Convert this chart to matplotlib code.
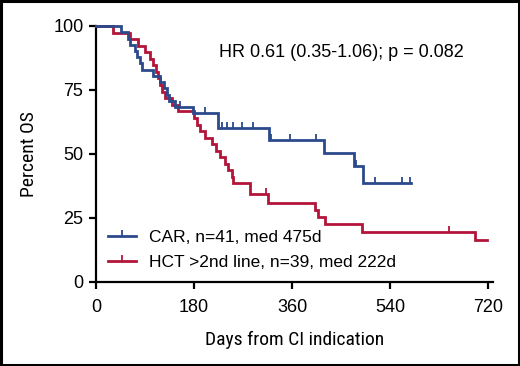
import matplotlib
matplotlib.use("Agg")
import matplotlib.pyplot as plt
from matplotlib import font_manager
from matplotlib.path import Path
from matplotlib.lines import Line2D
from matplotlib.patches import Rectangle

# ---- data ----
car_times = [0, 46, 59, 62, 72, 76, 80, 85, 105, 118, 125, 130, 134, 145, 178, 224, 317, 418, 474, 490]
car_surv = [100, 97.6, 95.1, 92.7, 90.2, 87.8, 85.4, 82.9, 80.5, 78.0, 75.6, 73.2, 70.7, 68.3, 65.9, 60.0, 55.4, 50.3, 45.3, 38.5]
car_end = 578
car_cens_t = [155, 200, 231, 240, 252, 268, 289, 322, 356, 404, 478, 512, 561, 577]
car_cens_s = [68.3, 65.9, 60.0, 60.0, 60.0, 60.0, 60.0, 55.4, 55.4, 55.4, 45.3, 38.5, 38.5, 38.5]

hct_times = [0, 31, 62, 77, 90, 99, 104, 110, 114, 118, 122, 127, 140, 150, 180, 186, 191, 200, 213, 220, 228, 236, 242, 250, 252, 283, 315, 402, 407, 421, 488, 696]
hct_surv = [100, 97.4, 94.9, 92.3, 89.7, 87.2, 84.6, 82.1, 79.5, 76.9, 74.4, 71.8, 69.2, 66.7, 64.1, 61.5, 59.0, 56.4, 53.8, 51.3, 48.7, 46.2, 43.6, 41.0, 38.5, 34.2, 30.8, 28.0, 25.3, 22.5, 19.7, 16.4]
hct_end = 718
hct_cens_t = [312, 649]
hct_cens_s = [34.2, 19.7]

x_ticks = [0, 180, 360, 540, 720]
y_ticks = [0, 25, 50, 75, 100]

car_label = "CAR, n=41, med 475d"
hct_label = "HCT >2nd line, n=39, med 222d"
stat_text = "HR 0.61 (0.35-1.06); p = 0.082"
xlabel = "Days from CI indication"
ylabel = "Percent OS"

blue = "#2b4a8b"
red = "#b3153a"

# ---- fonts ----
ttf = font_manager.fontManager.ttflist
names = {f.name for f in ttf}
body_font = "Liberation Sans" if "Liberation Sans" in names else "DejaVu Sans"
label_kw = None
for pref in ["Liberation Sans Narrow", "Roboto Condensed", "Open Sans Condensed",
             "Noto Sans Condensed", "DejaVu Sans Condensed"]:
    if pref in names:
        label_kw = dict(family=pref)
        break
if label_kw is None:
    cond = [f for f in ttf if str(f.stretch) in ("condensed", "semi-condensed", "extra-condensed", "ultra-condensed")
            or (isinstance(f.stretch, int) and f.stretch < 500)]
    if cond:
        label_kw = dict(family=cond[0].name, stretch=cond[0].stretch)
    else:
        label_kw = dict(family="Liberation Sans")
label_size = 14 if "stretch" in label_kw or "Narrow" in label_kw["family"] or "Condensed" in label_kw["family"] else 12.5
plt.rcParams["font.family"] = [body_font, "DejaVu Sans"]

tick_marker = Path([(0, 0), (0, 1)], [Path.MOVETO, Path.LINETO])

fig = plt.figure(figsize=(5.2, 3.66), dpi=100)
ax = fig.add_axes([96 / 520, 1 - 282 / 366, 397 / 520, 256 / 366])


def km(ax, times, surv, end, ct, cs, color):
    xs = list(times) + [end]
    ys = list(surv) + [surv[-1]]
    ax.step(xs, ys, where="post", color=color, lw=2.0, solid_joinstyle="miter",
            clip_on=False, zorder=3)
    ax.plot(ct, cs, linestyle="none", marker=tick_marker, markersize=9,
            markeredgewidth=1.3, color=color, clip_on=False, zorder=3)


km(ax, hct_times, hct_surv, hct_end, hct_cens_t, hct_cens_s, red)
km(ax, car_times, car_surv, car_end, car_cens_t, car_cens_s, blue)

ax.set_xlim(0, 729)
ax.set_ylim(0, 100)
ax.set_xticks(x_ticks)
ax.set_yticks(y_ticks)
ax.set_xticklabels([str(v) for v in x_ticks])
ax.set_yticklabels([str(v) for v in y_ticks])
for s in ["top", "right"]:
    ax.spines[s].set_visible(False)
for s in ["left", "bottom"]:
    ax.spines[s].set_linewidth(1.6)
ax.tick_params(axis="both", direction="out", length=5, width=1.6, labelsize=13,
               color="black")
ax.tick_params(axis="x", pad=7)
ax.tick_params(axis="y", pad=4)

ax.set_xlabel(xlabel, fontsize=label_size, labelpad=11, **label_kw)
ax.set_ylabel(ylabel, fontsize=label_size, labelpad=11, **label_kw)

ax.text(0.31, 0.895, stat_text, transform=ax.transAxes, fontsize=13, ha="left", va="center")

handles = [
    Line2D([], [], color=blue, lw=2.0, marker=tick_marker, markersize=9, markeredgewidth=1.3),
    Line2D([], [], color=red, lw=2.0, marker=tick_marker, markersize=9, markeredgewidth=1.3),
]
leg = ax.legend(handles, [car_label, hct_label], loc="lower left",
                bbox_to_anchor=(0.0, 0.0), frameon=False, fontsize=12.5,
                handlelength=1.6, handletextpad=0.75, labelspacing=0.55,
                numpoints=1, borderaxespad=0.3)

fig.patches.append(Rectangle((0.002, 0.003), 0.996, 0.994, transform=fig.transFigure,
                             fill=False, edgecolor="black", linewidth=2.2))

fig.savefig("out.png", dpi=100)
